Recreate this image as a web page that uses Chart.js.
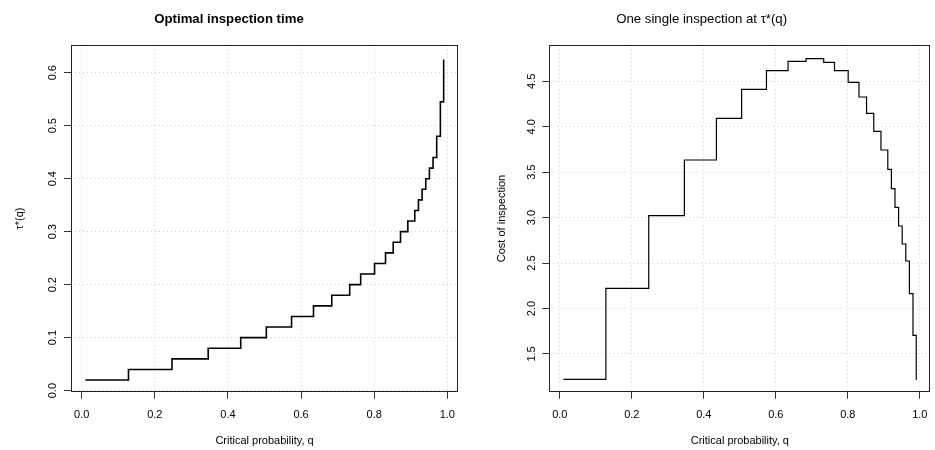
<!DOCTYPE html>
<html><head><meta charset="utf-8">
<script src="https://cdn.jsdelivr.net/npm/chart.js@4/dist/chart.umd.min.js"></script>
<style>
html,body{margin:0;padding:0;background:#fff;overflow:hidden;width:935px;height:450px;position:relative;}
canvas{position:absolute;top:0;}
</style></head><body>
<canvas id="c1" width="467" height="450" style="left:0px"></canvas>
<canvas id="c2" width="470" height="450" style="left:467px"></canvas>
<script>
// ---- data ----
const qValues = [0.01, 0.128, 0.247, 0.346, 0.435, 0.505, 0.574, 0.634, 0.684, 0.733, 0.763, 0.801, 0.831,
                 0.852, 0.872, 0.892, 0.911, 0.921, 0.931, 0.941, 0.951, 0.961, 0.971, 0.981, 0.99];
const tauValues = [0.02, 0.04, 0.06, 0.08, 0.10, 0.12, 0.14, 0.16, 0.18, 0.20, 0.22, 0.24, 0.26,
                   0.28, 0.30, 0.32, 0.34, 0.36, 0.38, 0.40, 0.42, 0.44, 0.48, 0.545, 0.625];
const costValues = [1.221, 2.222, 3.022, 3.634, 4.092, 4.412, 4.617, 4.720, 4.749, 4.709, 4.617, 4.489, 4.327,
                    4.148, 3.950, 3.744, 3.532, 3.319, 3.113, 2.908, 2.710, 2.523, 2.164, 1.705, 1.214];
const xTicks = [0, 0.2, 0.4, 0.6, 0.8, 1.0];
const xTickLabels = ['0.0', '0.2', '0.4', '0.6', '0.8', '1.0'];
const tauTicks = [0, 0.1, 0.2, 0.3, 0.4, 0.5, 0.6];
const tauTickLabels = ['0.0', '0.1', '0.2', '0.3', '0.4', '0.5', '0.6'];
const costTicks = [1.5, 2.0, 2.5, 3.0, 3.5, 4.0, 4.5];
const costTickLabels = ['1.5', '2.0', '2.5', '3.0', '3.5', '4.0', '4.5'];

const FONT = "'Liberation Sans', Arial, Helvetica, sans-serif";

const boxPlugin = {
  id: 'box',
  afterDraw(chart) {
    const {ctx, chartArea: a} = chart;
    ctx.save();
    ctx.strokeStyle = '#222';
    ctx.lineWidth = 1;
    const l = Math.round(a.left) + 0.5, t = Math.round(a.top) + 0.5;
    const r = Math.round(a.right) - 0.5, b = Math.round(a.bottom) - 0.5;
    ctx.strokeRect(l, t, r - l, b - t);
    ctx.restore();
  }
};

function makeChart(id, cfg) {
  const pts = qValues.map((q, i) => ({x: q, y: cfg.values[i]}));
  return new Chart(document.getElementById(id), {
    type: 'line',
    data: {datasets: [{data: pts, stepped: 'before', borderColor: '#000', borderWidth: cfg.lw,
                       pointRadius: 0, fill: false, tension: 0}]},
    plugins: [boxPlugin],
    options: {
      responsive: false, animation: false, devicePixelRatio: 1,
      layout: {padding: {left: 0, right: cfg.padRight, top: 0, bottom: 0}},
      plugins: {
        legend: {display: false}, tooltip: {enabled: false},
        title: {display: true, text: cfg.title, color: '#000',
                font: {family: FONT, size: 13.2, weight: cfg.titleWeight},
                padding: {top: 11.4, bottom: 18.06}}
      },
      scales: {
        x: {
          type: 'linear', min: -0.0292, max: 1.0292,
          afterBuildTicks: s => { s.ticks = xTicks.map(v => ({value: v})); },
          afterFit: s => { s.height = 58.3; },
          ticks: {color: '#000', font: {family: FONT, size: 11}, padding: 9.5, maxRotation: 0,
                  callback: (v, i) => xTickLabels[i]},
          grid: {color: '#d3d3d3', lineWidth: 1, tickLength: 7, tickColor: '#333', tickWidth: 1, tickBorderDash: []},
          border: {display: false, dash: [1, 3]},
          title: {display: true, text: 'Critical probability, q', color: '#000',
                  font: {family: FONT, size: 11}, padding: {top: 0, bottom: 2.4}}
        },
        y: {
          type: 'linear', min: cfg.ymin, max: cfg.ymax,
          afterBuildTicks: s => { s.ticks = cfg.yTicks.map(v => ({value: v})); },
          afterFit: s => { s.width = cfg.yWidth; },
          ticks: {color: '#000', font: {family: FONT, size: 11}, padding: 3, minRotation: 90, maxRotation: 90,
                  crossAlign: 'center', callback: (v, i) => cfg.yLabels[i]},
          grid: {color: '#d3d3d3', lineWidth: 1, tickLength: 7, tickColor: '#333', tickWidth: 1, tickBorderDash: []},
          border: {display: false, dash: [1, 3]},
          title: {display: true, text: cfg.ytitle, color: '#000',
                  font: {family: FONT, size: 11}, padding: {top: cfg.ytitlePad, bottom: 0}}
        }
      }
    }
  });
}

makeChart('c1', {
  values: tauValues, lw: 1.6, padRight: 9, title: 'Optimal inspection time', titleWeight: 'bold',
  ymin: -0.002, ymax: 0.6517, yTicks: tauTicks, yLabels: tauTickLabels, yWidth: 71,
  ytitle: 'τ*(q)', ytitlePad: 13.4
});
makeChart('c2', {
  values: costValues, lw: 1.2, padRight: 0.7, title: 'One single inspection at τ*(q)', titleWeight: 'normal',
  ymin: 1.085, ymax: 4.896, yTicks: costTicks, yLabels: costTickLabels, yWidth: 82.3,
  ytitle: 'Cost of inspection', ytitlePad: 28.4
});
</script>
</body></html>
